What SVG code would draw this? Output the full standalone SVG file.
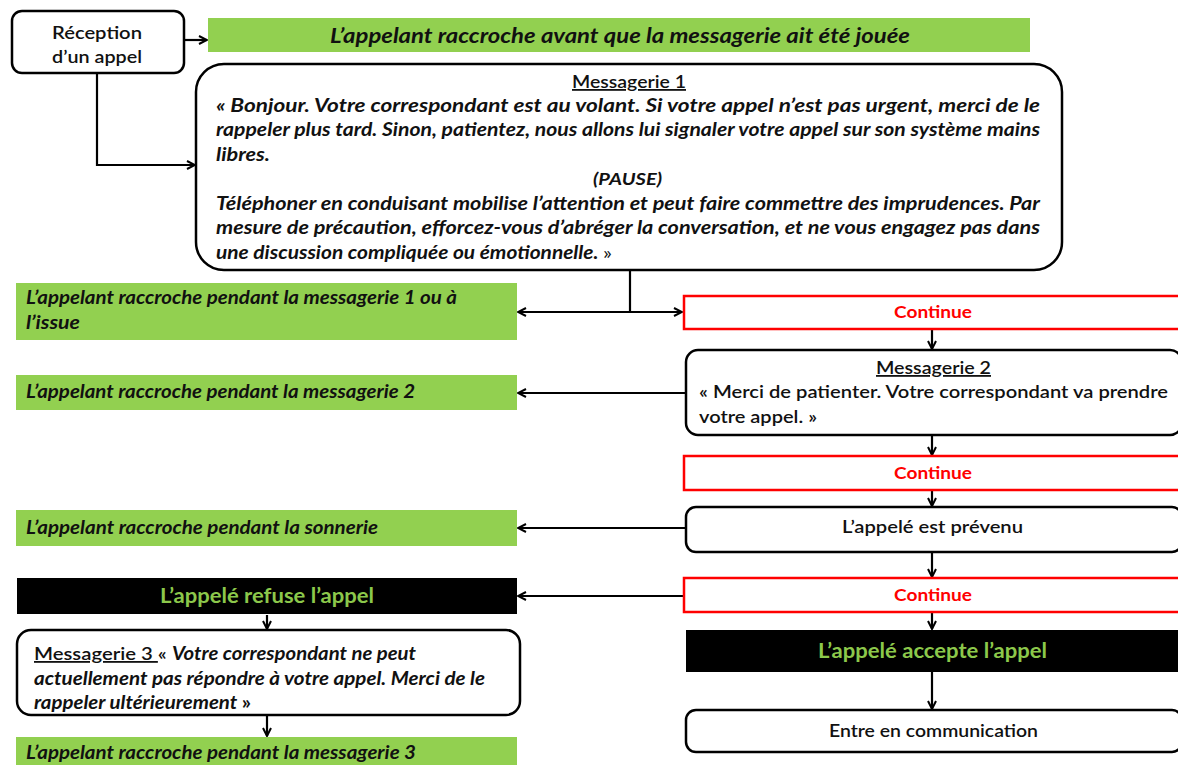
<svg xmlns="http://www.w3.org/2000/svg" width="1178" height="765" viewBox="0 0 1178 765">
<style>
  text { font-family: Lato, "Open Sans", "Liberation Sans", sans-serif; fill: #111; }
  .box { fill: #fff; stroke: #000; stroke-width: 2.5; }
  .green { fill: #92d050; }
  .red { fill: #fff; stroke: #ff0000; stroke-width: 2.5; }
  .black { fill: #000; }
  .gt { font-size: 18px; font-style: italic; font-weight: bold; }
  .msg { font-size: 18px; font-style: italic; font-weight: bold; }
  .plain { font-size: 18px; font-weight: bold; }
  .cont { font-size: 17px; font-weight: bold; fill: #ff0000; }
  .bt { font-size: 20px; font-weight: bold; fill: #8cc84b; }
  .conn { fill: none; stroke: #000; stroke-width: 2.2; }
  .u { text-decoration: underline; }
  .n { font-style: normal; }
</style>
<defs>
  <marker id="arr" viewBox="0 0 10 10" refX="9" refY="5" markerWidth="10" markerHeight="10" markerUnits="userSpaceOnUse" orient="auto-start-reverse">
    <path d="M1,1 L9,5 L1,9" fill="none" stroke="#000" stroke-width="2"/>
  </marker>
</defs>

<g id="connectors">
  <path class="conn" d="M184,40 L207,40" marker-end="url(#arr)"/>
  <path class="conn" d="M97,73 L97,165 L195,165" marker-end="url(#arr)"/>
  <path class="conn" d="M630,270 L630,312"/>
  <path class="conn" d="M518,312 L682,312" marker-start="url(#arr)" marker-end="url(#arr)"/>
  <path class="conn" d="M932,330 L932,349" marker-end="url(#arr)"/>
  <path class="conn" d="M686,393 L518,393" marker-end="url(#arr)"/>
  <path class="conn" d="M932,436 L932,455" marker-end="url(#arr)"/>
  <path class="conn" d="M932,491 L932,506" marker-end="url(#arr)"/>
  <path class="conn" d="M686,528 L518,528" marker-end="url(#arr)"/>
  <path class="conn" d="M932,553 L932,577" marker-end="url(#arr)"/>
  <path class="conn" d="M684,596 L518,596" marker-end="url(#arr)"/>
  <path class="conn" d="M267,615 L267,629" marker-end="url(#arr)"/>
  <path class="conn" d="M267,716 L267,736" marker-end="url(#arr)"/>
  <path class="conn" d="M932,613 L932,629" marker-end="url(#arr)"/>
  <path class="conn" d="M932,672 L932,709" marker-end="url(#arr)"/>
</g>

<g id="reception">
  <rect class="box" x="12" y="11" width="172" height="62" rx="10"/>
  <text class="plain" x="52" y="39" textLength="90" lengthAdjust="spacingAndGlyphs" style="font-weight:600">Réception</text>
  <text class="plain" x="52" y="63" textLength="90" lengthAdjust="spacingAndGlyphs" style="font-weight:600">d’un appel</text>
</g>

<g id="hangup-before">
  <rect class="green" x="208" y="18" width="822" height="34"/>
  <text class="gt" x="330" y="43" style="font-size:21px" textLength="580" lengthAdjust="spacingAndGlyphs">L’appelant raccroche avant que la messagerie ait été jouée</text>
</g>

<g id="messagerie1">
  <rect class="box" x="196" y="64" width="866" height="206" rx="28"/>
  <text class="plain u" x="572" y="88" textLength="114" lengthAdjust="spacingAndGlyphs" style="font-weight:600">Messagerie 1</text>
  <text class="msg" x="216" y="112" textLength="824" lengthAdjust="spacingAndGlyphs">« Bonjour. Votre correspondant est au volant. Si votre appel n’est pas urgent, merci de le</text>
  <text class="msg" x="216" y="136" textLength="824" lengthAdjust="spacingAndGlyphs">rappeler plus tard. Sinon, patientez, nous allons lui signaler votre appel sur son système mains</text>
  <text class="msg" x="216" y="161" textLength="54" lengthAdjust="spacingAndGlyphs">libres.</text>
  <text class="msg" x="593" y="185" style="font-size:17px" textLength="69" lengthAdjust="spacingAndGlyphs">(PAUSE)</text>
  <text class="msg" x="216" y="210" textLength="824" lengthAdjust="spacingAndGlyphs">Téléphoner en conduisant mobilise l’attention et peut faire commettre des imprudences.  Par</text>
  <text class="msg" x="216" y="234" textLength="824" lengthAdjust="spacingAndGlyphs">mesure de précaution, efforcez-vous d’abréger la conversation,  et ne vous engagez pas dans</text>
  <text class="msg" x="216" y="259" textLength="396" lengthAdjust="spacingAndGlyphs">une discussion compliquée ou émotionnelle. <tspan class="n" style="font-weight:normal">»</tspan></text>
</g>

<g id="hangup-m1">
  <rect class="green" x="16" y="283" width="501" height="57"/>
  <text class="gt" x="26" y="304" textLength="431" lengthAdjust="spacingAndGlyphs">L’appelant raccroche pendant la messagerie 1 ou à</text>
  <text class="gt" x="26" y="329" textLength="54" lengthAdjust="spacingAndGlyphs">l’issue</text>
</g>

<g id="continue1">
  <rect class="red" x="684" y="296" width="496" height="33"/>
  <text class="cont" x="894" y="318" textLength="78" lengthAdjust="spacingAndGlyphs">Continue</text>
</g>

<g id="messagerie2">
  <rect class="box" x="686" y="350" width="496" height="85" rx="12"/>
  <text class="plain u" x="876" y="374" textLength="115" lengthAdjust="spacingAndGlyphs" style="font-weight:600">Messagerie 2</text>
  <text class="plain" x="699" y="398" textLength="469" lengthAdjust="spacingAndGlyphs" style="font-weight:600">«  Merci de patienter. Votre correspondant va prendre</text>
  <text class="plain" x="699" y="423" textLength="118" lengthAdjust="spacingAndGlyphs" style="font-weight:600">votre appel. »</text>
</g>

<g id="hangup-m2">
  <rect class="green" x="16" y="375" width="501" height="35"/>
  <text class="gt" x="26" y="398" textLength="389" lengthAdjust="spacingAndGlyphs">L’appelant raccroche pendant la messagerie 2</text>
</g>

<g id="continue2">
  <rect class="red" x="684" y="456" width="496" height="34"/>
  <text class="cont" x="894" y="479" textLength="78" lengthAdjust="spacingAndGlyphs">Continue</text>
</g>

<g id="prevenu">
  <rect class="box" x="686" y="507" width="496" height="45" rx="10"/>
  <text class="plain" x="842" y="533" textLength="181" lengthAdjust="spacingAndGlyphs" style="font-weight:600">L’appelé est prévenu</text>
</g>

<g id="hangup-ring">
  <rect class="green" x="16" y="510" width="501" height="36"/>
  <text class="gt" x="26" y="534" textLength="352" lengthAdjust="spacingAndGlyphs">L’appelant raccroche pendant la sonnerie</text>
</g>

<g id="continue3">
  <rect class="red" x="684" y="578" width="496" height="34"/>
  <text class="cont" x="894" y="601" textLength="78" lengthAdjust="spacingAndGlyphs">Continue</text>
</g>

<g id="refuse">
  <rect class="black" x="17" y="578" width="500" height="36"/>
  <text class="bt" x="160" y="603" textLength="214" lengthAdjust="spacingAndGlyphs">L’appelé  refuse l’appel</text>
</g>

<g id="messagerie3">
  <rect class="box" x="17" y="630" width="503" height="85" rx="14"/>
  <text class="msg" x="34" y="660" textLength="382" lengthAdjust="spacingAndGlyphs"><tspan class="u n" style="font-weight:600">Messagerie 3 </tspan><tspan class="n" style="font-weight:600">« </tspan> Votre correspondant ne peut</text>
  <text class="msg" x="34" y="685" textLength="451" lengthAdjust="spacingAndGlyphs">actuellement pas répondre à votre appel. Merci de le</text>
  <text class="msg" x="34" y="709" textLength="217" lengthAdjust="spacingAndGlyphs">rappeler ultérieurement <tspan class="n">»</tspan></text>
</g>

<g id="hangup-m3">
  <rect class="green" x="16" y="737" width="501" height="30"/>
  <text class="gt" x="26" y="759" textLength="390" lengthAdjust="spacingAndGlyphs">L’appelant raccroche pendant la messagerie 3</text>
</g>

<g id="accepte">
  <rect class="black" x="686" y="630" width="494" height="42"/>
  <text class="bt" x="818" y="658" textLength="229" lengthAdjust="spacingAndGlyphs">L’appelé  accepte l’appel</text>
</g>

<g id="communication">
  <rect class="box" x="686" y="710" width="496" height="42" rx="10"/>
  <text class="plain" x="829" y="737" textLength="209" lengthAdjust="spacingAndGlyphs" style="font-weight:600">Entre en communication</text>
</g>
</svg>
